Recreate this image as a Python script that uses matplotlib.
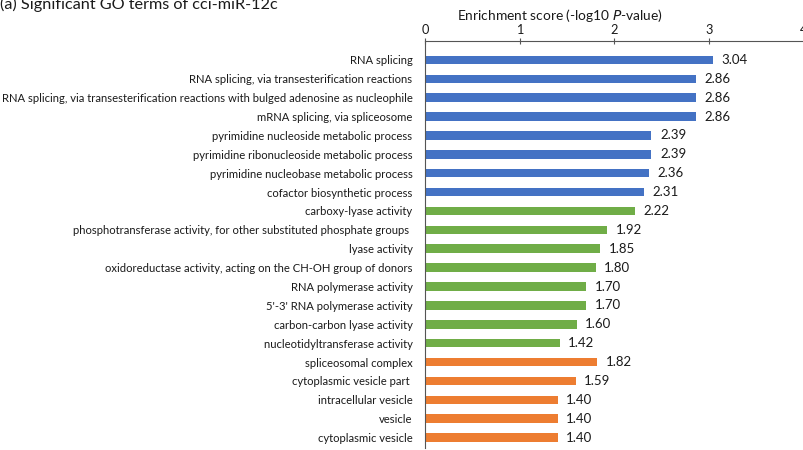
import matplotlib
matplotlib.use("Agg")
import matplotlib.pyplot as plt

plt.rcParams['font.family'] = ['Lato', 'DejaVu Sans']

# GO terms, top to bottom
terms = [
    "RNA splicing",
    "RNA splicing, via transesterification reactions",
    "RNA splicing, via transesterification reactions with bulged adenosine as nucleophile",
    "mRNA splicing, via spliceosome",
    "pyrimidine nucleoside metabolic process",
    "pyrimidine ribonucleoside metabolic process",
    "pyrimidine nucleobase metabolic process",
    "cofactor biosynthetic process",
    "carboxy-lyase activity",
    "phosphotransferase activity, for other substituted phosphate groups ",
    "lyase activity",
    "oxidoreductase activity, acting on the CH-OH group of donors",
    "RNA polymerase activity",
    "5'-3' RNA polymerase activity",
    "carbon-carbon lyase activity",
    "nucleotidyltransferase activity",
    "spliceosomal complex",
    "cytoplasmic vesicle part ",
    "intracellular vesicle",
    "vesicle",
    "cytoplasmic vesicle",
]
scores = [3.04, 2.86, 2.86, 2.86, 2.39, 2.39, 2.36, 2.31,
          2.22, 1.92, 1.85, 1.80, 1.70, 1.70, 1.60, 1.42,
          1.82, 1.59, 1.40, 1.40, 1.40]
groups = ["BP"] * 8 + ["MF"] * 8 + ["CC"] * 5
group_colors = {"BP": "#4472C4", "MF": "#70AD47", "CC": "#ED7D31"}

fig = plt.figure(figsize=(8.04, 4.5), dpi=100)
ax = fig.add_axes([425 / 804, 2 / 450, 1 - 425 / 804, (448 - 41) / 450])

ypos = list(range(len(terms)))
colors = [group_colors[g] for g in groups]
ax.barh(ypos, scores, height=0.45, color=colors)

for y, v in zip(ypos, scores):
    ax.text(v + 0.09, y, f"{v:.2f}", va="center", ha="left", fontsize=9.5, color="#1a1a1a")

ax.set_xlim(0, 4)
ax.set_ylim(20.55, -1.0)
ax.set_yticks(ypos)
ax.set_yticklabels(terms, fontsize=8.1, color="#1a1a1a")
ax.tick_params(axis="y", length=0, pad=9)

ax.xaxis.tick_top()
ax.set_xticks([0, 1, 2, 3, 4])
ax.tick_params(axis="x", direction="inout", length=4, width=0.8, labelsize=9.2,
               colors="#555555", labelcolor="#1a1a1a", pad=1.5)

for side in ["right", "bottom"]:
    ax.spines[side].set_visible(False)
ax.spines["top"].set_color("#555555")
ax.spines["left"].set_color("#555555")

fig.text(560 / 804, 1 - 15 / 450, "Enrichment score (-log10 $\\it{P}$-value)",
         ha="center", va="center", fontsize=9.9, color="#1a1a1a")
fig.text(0.0, 1 - 9 / 450, "(a) Significant GO terms of cci-miR-12c",
         ha="left", va="baseline", fontsize=11.7, color="#1a1a1a")

fig.savefig("out.png", dpi=100)
